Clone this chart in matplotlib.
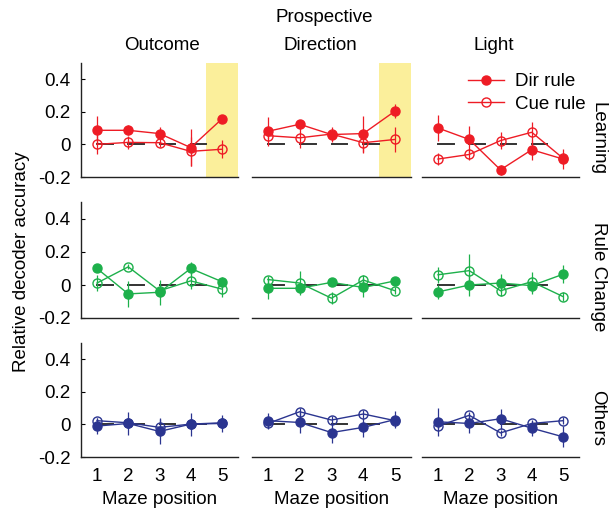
import matplotlib
matplotlib.use("Agg")
import matplotlib.pyplot as plt
from matplotlib.lines import Line2D

plt.rcParams["font.family"] = ["Liberation Sans", "DejaVu Sans"]
FS = 13.5

positions = [1, 2, 3, 4, 5]
cues = ["Outcome", "Direction", "Light"]
groups = ["Learning", "Rule Change", "Others"]
group_colors = ["#ee1c25", "#1db04b", "#2b3590"]
yticks = [-0.2, 0, 0.2, 0.4]
ytick_labels = ["-0.2", "0", "0.2", "0.4"]

# Learning
learn_dir = [[0.086, 0.086, 0.066, -0.02, 0.156],
             [0.08, 0.123, 0.06, 0.066, 0.204],
             [0.10, 0.03, -0.156, -0.033, -0.09]]
learn_dir_err = [[0.085, 0.03, 0.04, 0.115, 0.015],
                 [0.09, 0.015, 0.045, 0.11, 0.045],
                 [0.08, 0.085, 0.03, 0.06, 0.06]]
learn_cue = [[0.0, 0.012, 0.01, -0.043, -0.03],
             [0.053, 0.04, 0.063, 0.01, 0.03],
             [-0.09, -0.062, 0.023, 0.074, -0.085]]
learn_cue_err = [[0.06, 0.04, 0.025, 0.09, 0.055],
                 [0.02, 0.06, 0.02, 0.06, 0.075],
                 [0.035, 0.035, 0.05, 0.065, 0.03]]
# Rule change
rc_dir = [[0.10, -0.054, -0.044, 0.10, 0.02],
          [-0.02, -0.02, 0.016, -0.015, 0.025],
          [-0.042, 0.0, 0.012, -0.004, 0.065]]
rc_dir_err = [[0.02, 0.08, 0.075, 0.04, 0.03],
              [0.065, 0.03, 0.02, 0.055, 0.015],
              [0.04, 0.065, 0.055, 0.05, 0.055]]
rc_cue = [[0.012, 0.11, -0.035, 0.025, -0.025],
          [0.033, 0.012, -0.08, 0.03, -0.035],
          [0.062, 0.087, -0.035, 0.02, -0.07]]
rc_cue_err = [[0.05, 0.015, 0.03, 0.05, 0.045],
              [0.02, 0.075, 0.035, 0.03, 0.02],
              [0.05, 0.10, 0.03, 0.06, 0.03]]
# Others
oth_dir = [[-0.01, 0.006, -0.043, 0.002, 0.006],
           [0.023, 0.012, -0.05, -0.018, 0.03],
           [0.016, 0.006, 0.035, -0.023, -0.076]]
oth_dir_err = [[0.05, 0.07, 0.08, 0.07, 0.05],
               [0.05, 0.065, 0.065, 0.06, 0.05],
               [0.085, 0.06, 0.06, 0.045, 0.065]]
oth_cue = [[0.023, 0.01, -0.018, 0.002, 0.01],
           [0.006, 0.078, 0.027, 0.064, 0.023],
           [-0.01, 0.056, -0.052, 0.006, 0.023]]
oth_cue_err = [[0.015, 0.015, 0.05, 0.015, 0.015],
               [0.02, 0.025, 0.025, 0.025, 0.02],
               [0.02, 0.02, 0.02, 0.02, 0.02]]

dir_vals = [learn_dir, rc_dir, oth_dir]
dir_errs = [learn_dir_err, rc_dir_err, oth_dir_err]
cue_vals = [learn_cue, rc_cue, oth_cue]
cue_errs = [learn_cue_err, rc_cue_err, oth_cue_err]
highlight_cols = [0, 1]   # learning row, last maze position

W, H = 613, 511
fig = plt.figure(figsize=(W / 100, H / 100), dpi=100)

# axes rectangles in pixels: (left, right) per column, (top, bottom) per row
col_px = [(81.4, 237.6), (252, 411), (422.4, 578.6)]
row_px = [(62.7, 177), (202.5, 318), (343, 457)]

for r, grp in enumerate(groups):
    c_col = group_colors[r]
    for c in range(3):
        x0, x1 = col_px[c]
        t, b = row_px[r]
        ax = fig.add_axes([x0 / W, 1 - b / H, (x1 - x0) / W, (b - t) / H])
        ax.set_xlim(0.5, 5.5)
        ax.set_ylim(-0.2, 0.5)
        if r == 0 and c in highlight_cols:
            ax.axvspan(4.5, 5.5, color="#fbef9b", lw=0, zorder=0)
        # dashed zero reference
        for p in positions[:-1]:
            ax.plot([p, p + 0.5], [0, 0], color="#333333", lw=1.4, zorder=1)
        ax.errorbar(positions, dir_vals[r][c], yerr=dir_errs[r][c], fmt="-o",
                    color=c_col, mfc=c_col, mec=c_col, ms=6.5, lw=1.0,
                    elinewidth=0.9, capsize=0, zorder=3)
        ax.errorbar(positions, cue_vals[r][c], yerr=cue_errs[r][c], fmt="-o",
                    color=c_col, mfc="none", mec=c_col, ms=6.5, lw=1.0,
                    mew=1.0, elinewidth=0.9, capsize=0, zorder=4)
        for s in ["top", "right"]:
            ax.spines[s].set_visible(False)
        ax.spines["bottom"].set_linewidth(1.0)
        ax.spines["bottom"].set_color("#222222")
        ax.set_xticks(positions)
        ax.set_xticks([2, 4], minor=True)
        ax.tick_params(axis="x", which="major", length=0, pad=8, labelsize=FS)
        ax.tick_params(axis="x", which="minor", direction="in", length=3, width=0.8)
        if r < 2:
            ax.set_xticklabels([])
        else:
            ax.set_xlabel("Maze position", fontsize=FS, labelpad=4)
        if c == 0:
            ax.spines["left"].set_linewidth(1.0)
            ax.spines["left"].set_color("#222222")
            ax.set_yticks(yticks)
            ax.set_yticklabels(ytick_labels)
            ax.tick_params(axis="y", direction="in", length=3, width=0.8,
                           pad=8, labelsize=FS)
        else:
            ax.spines["left"].set_visible(False)
            ax.set_yticks([])
        ax.patch.set_visible(False)

# column titles
fig.text(324 / W, 1 - 17 / H, "Prospective", fontsize=FS, ha="center", va="center")
for cue, xc in zip(cues, [162, 320, 494]):
    fig.text(xc / W, 1 - 45 / H, cue, fontsize=FS, ha="center", va="center")

# row labels
for grp, yc in zip(groups, [138, 277, 418]):
    fig.text(598 / W, 1 - yc / H, grp, fontsize=FS, rotation=-90,
             ha="center", va="center")

fig.text(22 / W, 1 - 262 / H, "Relative decoder accuracy", fontsize=FS,
         rotation=90, ha="center", va="center")

handles = [Line2D([], [], color=group_colors[0], marker="o", ms=6.5, lw=1.0),
           Line2D([], [], color=group_colors[0], marker="o", mfc="none", ms=6.5, lw=1.0)]
fig.legend(handles, ["Dir rule", "Cue rule"], loc="upper left",
           bbox_to_anchor=(468 / W, 1 - 73 / H), frameon=False, fontsize=FS,
           handlelength=1.9, handletextpad=0.6, labelspacing=0.3, borderpad=0,
           borderaxespad=0)

fig.savefig("out.png", dpi=100)
